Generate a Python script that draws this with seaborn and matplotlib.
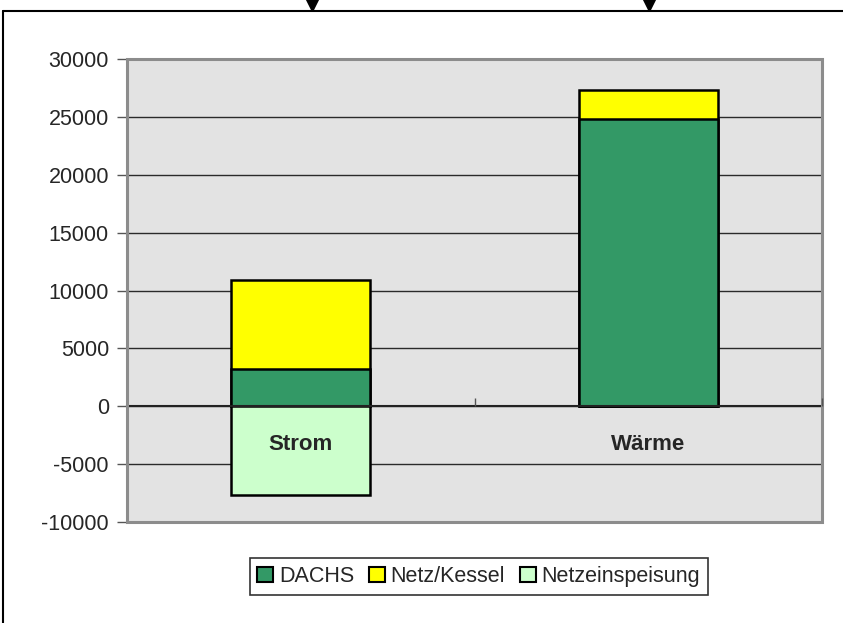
import matplotlib
matplotlib.use("Agg")
import matplotlib.pyplot as plt
import seaborn as sns
from matplotlib.patches import Patch, Rectangle
from matplotlib.lines import Line2D
from matplotlib.ticker import MultipleLocator

# values
categories = ["Strom", "Wärme"]
dachs = [3200, 24800]
netz_kessel = [7700, 2500]
netzeinspeisung = [-7650, 0]

series_names = ["DACHS", "Netz/Kessel", "Netzeinspeisung"]
series_colors = ["#339966", "#FFFF00", "#CCFFCC"]

totals = [d + n for d, n in zip(dachs, netz_kessel)]

sns.set_style("white")
plt.rcParams["font.family"] = ["Liberation Sans", "DejaVu Sans"]
plt.rcParams["font.size"] = 15
plt.rcParams["axes.unicode_minus"] = False

fig = plt.figure(figsize=(8.43, 6.23), dpi=100)
ax = fig.add_axes([0.1507, 0.1621, 0.8244, 0.7432])
ax.set_facecolor("#E3E3E3")

bar_kw = dict(width=0.4, edgecolor="black", linewidth=1.8, errorbar=None, ax=ax)
# stacked look: total first, then DACHS on top of it
sns.barplot(x=categories, y=totals, color=series_colors[1], saturation=1, **bar_kw)
sns.barplot(x=categories, y=dachs, color=series_colors[0], saturation=1, **bar_kw)
sns.barplot(x=categories, y=netzeinspeisung, color=series_colors[2], saturation=1, **bar_kw)

ax.set_ylim(-10000, 30000)
ax.set_xlim(-0.5, 1.5)
ax.yaxis.set_major_locator(MultipleLocator(5000))
ax.set_xlabel("")
ax.set_ylabel("")

ax.yaxis.grid(True, color="#2a2a2a", linewidth=1)
ax.xaxis.grid(False)
ax.set_axisbelow(True)
ax.xaxis.set_zorder(3)

for side in ["left", "right", "top"]:
    ax.spines[side].set_visible(False)
ax.spines["bottom"].set_position(("data", 0))
ax.spines["bottom"].set_color("#222222")
ax.spines["bottom"].set_linewidth(1.5)
ax.add_patch(Rectangle((0, 0), 1, 1, transform=ax.transAxes, fill=False,
                       edgecolor="#8C8C8C", linewidth=2.2, clip_on=False, zorder=2.6))

ax.tick_params(axis="y", direction="out", length=7, width=1, color="#555555",
               pad=6, labelsize=15.5, left=True)
ax.tick_params(axis="x", which="major", length=0, pad=20)
for lab in ax.get_xticklabels():
    lab.set_fontweight("bold")
    lab.set_fontsize(16)
ax.set_xticks([0.5, 1.5], minor=True)
ax.tick_params(axis="x", which="minor", direction="in", length=6, width=1,
               color="#555555", bottom=True)

handles = [Patch(facecolor=c, edgecolor="black", linewidth=1.5) for c in series_colors]
leg = fig.legend(handles, series_names, loc="center", bbox_to_anchor=(0.568, 0.0746),
                 ncol=3, frameon=True, fancybox=False, edgecolor="black",
                 handlelength=0.75, handleheight=0.75, handletextpad=0.25,
                 columnspacing=0.7, borderpad=0.35, fontsize=15.5)
leg.get_frame().set_linewidth(1.2)

# outer chart border (left and top edges visible) and the two top markers
fig.add_artist(Line2D([3.5 / 843, 3.5 / 843], [0, 1 - 10.5 / 623], color="black",
                      linewidth=1.5, transform=fig.transFigure))
fig.add_artist(Line2D([3.5 / 843, 1], [1 - 10.5 / 623, 1 - 10.5 / 623], color="black",
                      linewidth=1.5, transform=fig.transFigure))
for mx in [312 / 843, 649 / 843]:
    fig.add_artist(Line2D([mx], [1 - 4 / 623], marker="v", markersize=10, color="black",
                          linestyle="none", transform=fig.transFigure))

fig.savefig("out.png", dpi=100)
